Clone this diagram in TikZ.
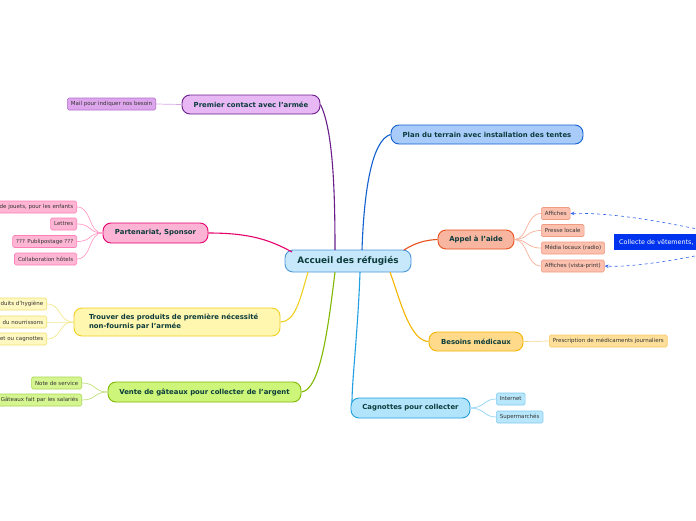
\documentclass[tikz,border=0pt]{standalone}
\usepackage{fontspec}
\setmainfont{DejaVu Sans}
\usetikzlibrary{arrows.meta}
\definecolor{txtmain}{HTML}{0B3B3B}
\definecolor{txtleaf}{HTML}{333333}
\definecolor{cfill}{HTML}{C6E8FA}\definecolor{cdraw}{HTML}{4A98DC}
\definecolor{pufill}{HTML}{E8B8F5}\definecolor{pudraw}{HTML}{6B1E8C}
\definecolor{pulfill}{HTML}{DDA6EC}\definecolor{puldraw}{HTML}{B070D0}\definecolor{pulline}{HTML}{D8A8E8}
\definecolor{plfill}{HTML}{A9CBFA}\definecolor{pldraw}{HTML}{1060D0}
\definecolor{pkfill}{HTML}{FDB3D3}\definecolor{pkdraw}{HTML}{E6006E}
\definecolor{pklfill}{HTML}{FFB6D5}\definecolor{pkldraw}{HTML}{FF80B8}\definecolor{pkline}{HTML}{FF9CC8}
\definecolor{apfill}{HTML}{F8B5A0}\definecolor{apdraw}{HTML}{E8501E}
\definecolor{aplfill}{HTML}{FBC0AE}\definecolor{apldraw}{HTML}{F09A80}\definecolor{apline}{HTML}{F7B09A}
\definecolor{bgblue}{HTML}{0033EE}\definecolor{dashblue}{HTML}{3366EE}
\definecolor{bmfill}{HTML}{FEDA8A}\definecolor{bmdraw}{HTML}{F5B500}
\definecolor{bmlfill}{HTML}{FDDF9A}\definecolor{bmldraw}{HTML}{F7C860}\definecolor{bmline}{HTML}{F8D890}
\definecolor{cafill}{HTML}{B2E4FB}\definecolor{cadraw}{HTML}{20A0E0}
\definecolor{calfill}{HTML}{B8E6FB}\definecolor{caldraw}{HTML}{80CCF0}\definecolor{caline}{HTML}{90D4F4}
\definecolor{vefill}{HTML}{CCF57A}\definecolor{vedraw}{HTML}{80B800}
\definecolor{velfill}{HTML}{D5F590}\definecolor{veldraw}{HTML}{A8D850}\definecolor{veline}{HTML}{C0E080}
\definecolor{trfill}{HTML}{FFF6B0}\definecolor{trdraw}{HTML}{F0D020}
\definecolor{trlfill}{HTML}{FFF8C0}\definecolor{trldraw}{HTML}{F0E070}\definecolor{trline}{HTML}{F4E890}
\tikzset{
  mainnode/.style={rounded corners=8pt, line width=0.9pt, text=txtmain, font=\bfseries\fontsize{6.9}{8}\selectfont, inner sep=0pt},
  leafnode/.style={rounded corners=1.5pt, line width=0.6pt, text=txtleaf, font=\fontsize{5.5}{6.5}\selectfont, inner sep=0pt, minimum height=12pt, inner xsep=3.5pt},
  branch/.style={line width=1.1pt},
  twig/.style={line width=0.7pt},
}
\begin{document}
\begin{tikzpicture}[x=1pt,y=-1pt]
\useasboundingbox (0,0) rectangle (696,520);
\clip (0,0) rectangle (696,520);
\fill[white] (0,0) rectangle (696,520);

% central node
\node[mainnode, fill=cfill, draw=cdraw, minimum width=126pt, minimum height=22pt, font=\bfseries\fontsize{8.9}{10}\selectfont] (c) at (348,261) {Accueil des réfugiés};

% main branches
\node[mainnode, fill=pufill, draw=pudraw, minimum width=138pt, minimum height=19pt] (pc) at (251,104.5) {Premier contact avec l'armée};
\node[mainnode, fill=plfill, draw=pldraw, minimum width=192pt, minimum height=19pt, font=\bfseries\fontsize{6.9}{8}\selectfont] (pl) at (487,134.5) {Plan du terrain avec installation des tentes};
\node[mainnode, fill=pkfill, draw=pkdraw, minimum width=105pt, minimum height=20pt] (pk) at (155.5,233) {Partenariat, Sponsor};
\node[mainnode, fill=apfill, draw=apdraw, minimum width=76pt, minimum height=19pt] (ap) at (476,239.5) {Appel à l'aide};
\node[mainnode, fill=trfill, draw=trdraw, minimum width=206pt, minimum height=28pt, align=left, text width=176pt, font=\bfseries\fontsize{6.9}{9.5}\selectfont] (tr) at (177,322) {Trouver des produits de première nécessité\\non-fournis par l'armée};
\node[mainnode, fill=bmfill, draw=bmdraw, minimum width=94pt, minimum height=19pt] (bm) at (476,341.5) {Besoins médicaux};
\node[mainnode, fill=vefill, draw=vedraw, minimum width=193pt, minimum height=20pt] (ve) at (204.5,392) {Vente de gâteaux pour collecter de l'argent};
\node[mainnode, fill=cafill, draw=cadraw, minimum width=119pt, minimum height=20pt] (ca) at (410.5,408) {Cagnottes pour collecter};

% branch connectors
\draw[branch, draw=pudraw] (335,250) .. controls (335,190) and (333,130) .. (pc.east);
\draw[branch, draw=pldraw] (362,250) .. controls (364,190) and (372,140) .. (pl.west);
\draw[branch, draw=pkdraw] (pk.east) .. controls (250,233) and (270,240) .. (292,252);
\draw[branch, draw=apdraw] (404,250) .. controls (415,243) and (425,240) .. (ap.west);
\draw[branch, draw=bmdraw] (390,272) .. controls (400,300) and (410,341) .. (bm.west);
\draw[branch, draw=cadraw] (360,272) .. controls (358,330) and (352,380) .. (352,402);
\draw[branch, draw=vedraw] (335,272) .. controls (328,330) and (320,390) .. (ve.east);
\draw[branch, draw=trdraw] (308,272) .. controls (300,300) and (295,322) .. (tr.east);

% leaves: Premier contact
\node[leafnode, fill=pulfill, draw=puldraw, anchor=east] (m1) at (156,104) {Mail pour indiquer nos besoin};
\draw[twig, draw=pulline] (m1.east) -- (pc.west);

% leaves: Partenariat
\node[leafnode, fill=pklfill, draw=pkldraw, anchor=east] (k1) at (77,207) {de jouets, pour les enfants};
\node[leafnode, fill=pklfill, draw=pkldraw, anchor=east] (k2) at (77,224) {Lettres};
\node[leafnode, fill=pklfill, draw=pkldraw, anchor=east] (k3) at (77,241.5) {??? Publipostage ???};
\node[leafnode, fill=pklfill, draw=pkldraw, anchor=east] (k4) at (77,259) {Collaboration hôtels};
\foreach \n in {k1,k2,k3,k4}
  \draw[twig, draw=pkline] (\n.east) .. controls (92,0|-\n.east) and (88,233) .. (pk.west);

% leaves: Appel
\node[leafnode, fill=aplfill, draw=apldraw, anchor=west] (a1) at (541,213.5) {Affiches};
\node[leafnode, fill=aplfill, draw=apldraw, anchor=west] (a2) at (541,230.5) {Presse locale};
\node[leafnode, fill=aplfill, draw=apldraw, anchor=west] (a3) at (541,248) {Média locaux (radio)};
\node[leafnode, fill=aplfill, draw=apldraw, anchor=west] (a4) at (541,266) {Affiches (vista-print)};
\foreach \n in {a1,a2,a3,a4}
  \draw[twig, draw=apline] (ap.east) .. controls (528,239.5) and (526,0|-\n.west) .. (\n.west);

% external blue node
\node[anchor=west, fill=bgblue, text=white, font=\fontsize{6.4}{7.5}\selectfont, minimum height=16pt, text width=100pt, inner xsep=5pt, align=left] (bl) at (614,242) {Collecte de vêtements,};
\draw[dashed, dashblue, line width=0.6pt, -{Stealth[length=4pt,width=3.5pt]}] (bl.north east) .. controls (705,232) and (630,212) .. (a1.east);
\draw[dashed, dashblue, line width=0.6pt, -{Stealth[length=4pt,width=3.5pt]}] (bl.south east) .. controls (705,254) and (640,268) .. (a4.east);

% leaves: Trouver
\node[leafnode, fill=trlfill, draw=trldraw, anchor=east] (t1) at (47,304) {duits d'hygiène};
\node[leafnode, fill=trlfill, draw=trldraw, anchor=east] (t2) at (47,322) {du nourrissons};
\node[leafnode, fill=trlfill, draw=trldraw, anchor=east] (t3) at (47,339) {et ou cagnottes};
\foreach \n in {t1,t2,t3}
  \draw[twig, draw=trline] (\n.east) .. controls (62,0|-\n.east) and (58,322) .. (tr.west);

% leaf: Besoins
\node[leafnode, fill=bmlfill, draw=bmldraw, anchor=west] (b1) at (549,341) {Prescription de médicaments journaliers};
\draw[twig, draw=bmline] (bm.east) -- (b1.west);

% leaves: Cagnottes
\node[leafnode, fill=calfill, draw=caldraw, anchor=west] (g1) at (496,399) {Internet};
\node[leafnode, fill=calfill, draw=caldraw, anchor=west] (g2) at (496,417) {Supermarchés};
\foreach \n in {g1,g2}
  \draw[twig, draw=caline] (ca.east) .. controls (484,408) and (484,0|-\n.west) .. (\n.west);

% leaves: Vente
\node[leafnode, fill=velfill, draw=veldraw, anchor=east] (v1) at (82,383) {Note de service};
\node[leafnode, fill=velfill, draw=veldraw, anchor=east] (v2) at (82,400) {Gâteaux fait par les salariés};
\foreach \n in {v1,v2}
  \draw[twig, draw=veline] (\n.east) .. controls (96,0|-\n.east) and (94,392) .. (ve.west);
\end{tikzpicture}
\end{document}
